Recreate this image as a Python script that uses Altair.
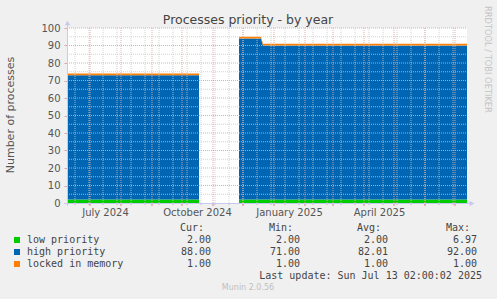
import altair as alt
import pandas as pd

# ---------------- data ----------------
series_names = ["low priority", "high priority", "locked in memory"]
series_colors = ["#00CC00", "#0066B3", "#FF8000"]

seg_a_dates = ["2024-06-08", "2024-10-18"]
seg_a_low = [2, 2]
seg_a_high = [71, 71]
seg_a_locked = [1, 1]

seg_b_dates = ["2024-11-27", "2024-12-19", "2024-12-21", "2025-07-13"]
seg_b_low = [2, 2, 2, 2]
seg_b_high = [92, 92, 88, 88]
seg_b_locked = [1, 1, 1, 1]

cur_vals = ["2.00", "88.00", "1.00"]
min_vals = ["2.00", "71.00", "1.00"]
avg_vals = ["2.00", "82.01", "1.00"]
max_vals = ["6.97", "92.00", "1.00"]

x_domain = ["2024-06-08", "2025-07-13"]
x_label_dates = ["2024-07-16", "2024-10-16", "2025-01-16", "2025-04-16"]
month_grid = ["2024-07-01", "2024-08-01", "2024-09-01", "2024-10-01", "2024-11-01",
              "2024-12-01", "2025-01-01", "2025-02-01", "2025-03-01", "2025-04-01",
              "2025-05-01", "2025-06-01", "2025-07-01"]
week_grid = ["2024-06-16", "2024-06-30", "2024-07-14", "2024-07-28", "2024-08-11",
             "2024-08-25", "2024-09-08", "2024-09-22", "2024-10-06", "2024-10-20",
             "2024-11-03", "2024-11-17", "2024-12-01", "2024-12-15", "2024-12-29",
             "2025-01-12", "2025-01-26", "2025-02-09", "2025-02-23", "2025-03-09",
             "2025-03-23", "2025-04-06", "2025-04-20", "2025-05-04", "2025-05-18",
             "2025-06-01", "2025-06-15", "2025-06-29"]
y_ticks = [0, 10, 20, 30, 40, 50, 60, 70, 80, 90, 100]
y_major = [10, 20, 30, 40, 50, 60, 70, 80, 90, 100]
y_minor = [5, 15, 25, 35, 45, 55, 65, 75, 85, 95]


def ms(d):
    return int(pd.Timestamp(d, tz="UTC").value // 10**6)


# stacked table built from the arrays above (bottom -> top)
rows = []
for seg, dates, arrs in [("a", seg_a_dates, [seg_a_low, seg_a_high, seg_a_locked]),
                         ("b", seg_b_dates, [seg_b_low, seg_b_high, seg_b_locked])]:
    for i, d in enumerate(dates):
        base = 0
        for k, name in enumerate(series_names):
            top = base + arrs[k][i]
            rows.append({"date": ms(d), "series": name, "grp": f"{seg}{k}",
                         "y0": base, "y1": top})
            base = top
df = pd.DataFrame(rows)

W, H = 400, 175
xscale = alt.Scale(type="utc", domain=[ms(d) for d in x_domain], nice=False)
yscale = alt.Scale(domain=[0, 100], nice=False, zero=True)

FONT = "DejaVu Sans"
MONO = "DejaVu Sans Mono"
AXIS_COL = "#C8C8F0"
RED_GRID = "#E8A0A0"
GRAY_GRID = "#C8C8C8"

XAXIS = alt.Axis(values=[ms(d) for d in x_label_dates],
                 labelExpr="utcFormat(datum.value, '%B %Y')",
                 ticks=False, domain=False, grid=False, title=None,
                 labelFont=FONT, labelFontSize=10, labelColor="#555555",
                 labelPadding=4, labelOverlap=False)
YAXIS = alt.Axis(values=y_ticks, domain=False, grid=False, title=None,
                 ticks=True, tickColor=RED_GRID, tickSize=3,
                 labelFont=FONT, labelFontSize=10, labelColor="#555555",
                 labelPadding=4, labelOverlap=False)

area = alt.Chart(df).mark_area(interpolate="linear").encode(
    x=alt.X("date:T", scale=xscale, axis=XAXIS),
    y=alt.Y("y1:Q", scale=yscale, axis=YAXIS),
    y2="y0:Q",
    color=alt.Color("series:N", scale=alt.Scale(domain=series_names, range=series_colors),
                    legend=None),
    detail="grp:N",
)

hminor = alt.Chart(pd.DataFrame({"v": y_minor})).mark_rule(
    color=GRAY_GRID, strokeDash=[1, 1], strokeWidth=1, opacity=0.8).encode(
    y=alt.Y("v:Q", scale=yscale, axis=YAXIS), x=alt.value(0), x2=alt.value(W))
hmajor = alt.Chart(pd.DataFrame({"v": y_major})).mark_rule(
    color=RED_GRID, strokeDash=[1, 1], strokeWidth=1, opacity=0.9).encode(
    y=alt.Y("v:Q", scale=yscale, axis=YAXIS), x=alt.value(0), x2=alt.value(W))
vminor = alt.Chart(pd.DataFrame({"d": [ms(d) for d in week_grid]})).mark_rule(
    color=GRAY_GRID, strokeDash=[1, 1], strokeWidth=1, opacity=0.8).encode(
    x=alt.X("d:T", scale=xscale, axis=XAXIS), y=alt.value(0), y2=alt.value(H))
vmajor = alt.Chart(pd.DataFrame({"d": [ms(d) for d in month_grid]})).mark_rule(
    color=RED_GRID, strokeDash=[1, 1], strokeWidth=1, opacity=0.9).encode(
    x=alt.X("d:T", scale=xscale, axis=XAXIS), y=alt.value(0), y2=alt.value(H))
vminor_tick = alt.Chart(pd.DataFrame({"d": [ms(d) for d in week_grid]})).mark_rule(
    color="#BBBBBB", strokeWidth=1).encode(
    x=alt.X("d:T", scale=xscale, axis=XAXIS), y=alt.value(H), y2=alt.value(H + 2))
vmajor_tick = alt.Chart(pd.DataFrame({"d": [ms(d) for d in month_grid]})).mark_rule(
    color="#E08080", strokeWidth=1).encode(
    x=alt.X("d:T", scale=xscale, axis=XAXIS), y=alt.value(H), y2=alt.value(H + 3))

one = pd.DataFrame({"k": [0]})

xline = alt.Chart(one).mark_rule(color=AXIS_COL, strokeWidth=1).encode(
    x=alt.value(-3), x2=alt.value(W + 6), y=alt.value(H + 0.5))
yline = alt.Chart(one).mark_rule(color=AXIS_COL, strokeWidth=1).encode(
    x=alt.value(0.5), y=alt.value(-5), y2=alt.value(H + 3))
xarrow = alt.Chart(one).mark_point(shape="triangle-right", filled=True, size=30,
                                   color=AXIS_COL, opacity=1).encode(
    x=alt.value(W + 5), y=alt.value(H + 0.5))
yarrow = alt.Chart(one).mark_point(shape="triangle-up", filled=True, size=30,
                                   color=AXIS_COL, opacity=1).encode(
    x=alt.value(0.5), y=alt.value(-5))

OX, OY = 67, 28


def txt(s, x, y, **kw):
    return alt.Chart(one).mark_text(text=s, baseline="middle", **kw).encode(
        x=alt.value(x - OX), y=alt.value(y - OY))


texts = [
    txt("Processes priority - by year", 248, 19.5, font=FONT, fontSize=12.5,
        color="#444444", align="center"),
    txt("Number of processes", 11, 115, font=FONT, fontSize=11, color="#555555",
        align="center", angle=270),
    txt("RRDTOOL / TOBI OETIKER", 487, 6, font=FONT, fontSize=8.3, color="#C4C4C4",
        align="left", angle=90),
    txt("Cur:", 204, 228, font=MONO, fontSize=10, color="#444444", align="right"),
    txt("Min:", 293, 228, font=MONO, fontSize=10, color="#444444", align="right"),
    txt("Avg:", 381, 228, font=MONO, fontSize=10, color="#444444", align="right"),
    txt("Max:", 470, 228, font=MONO, fontSize=10, color="#444444", align="right"),
    txt("Last update: Sun Jul 13 02:00:02 2025", 482, 276, font=MONO, fontSize=10,
        color="#444444", align="right"),
    txt("Munin 2.0.56", 248, 288, font=FONT, fontSize=8, color="#C0C0C0", align="center"),
]

row_y = [240, 252, 264]
legend_layers = []
for i, name in enumerate(series_names):
    yy = row_y[i]
    legend_layers.append(
        alt.Chart(one).mark_rect(color=series_colors[i]).encode(
            x=alt.value(14 - OX), x2=alt.value(20 - OX),
            y=alt.value(yy - 3 - OY), y2=alt.value(yy + 3 - OY)))
    legend_layers.append(txt(name, 27, yy, font=MONO, fontSize=10, color="#444444",
                             align="left"))
    legend_layers.append(txt(cur_vals[i], 211, yy, font=MONO, fontSize=10,
                             color="#444444", align="right"))
    legend_layers.append(txt(min_vals[i], 300, yy, font=MONO, fontSize=10,
                             color="#444444", align="right"))
    legend_layers.append(txt(avg_vals[i], 388, yy, font=MONO, fontSize=10,
                             color="#444444", align="right"))
    legend_layers.append(txt(max_vals[i], 477, yy, font=MONO, fontSize=10,
                             color="#444444", align="right"))

chart = alt.layer(
    area, hminor, hmajor, vminor, vmajor, vminor_tick, vmajor_tick,
    xline, yline, xarrow, yarrow, *texts, *legend_layers
).properties(
    width=W, height=H,
    autosize=alt.AutoSizeParams(type="none"),
    padding={"left": OX, "top": OY, "right": 497 - OX - W, "bottom": 299 - OY - H},
    background="#F0F0F0",
).configure_view(stroke=None, fill="white")

chart.save("out.html", embed_options={"renderer": "svg", "actions": False})
